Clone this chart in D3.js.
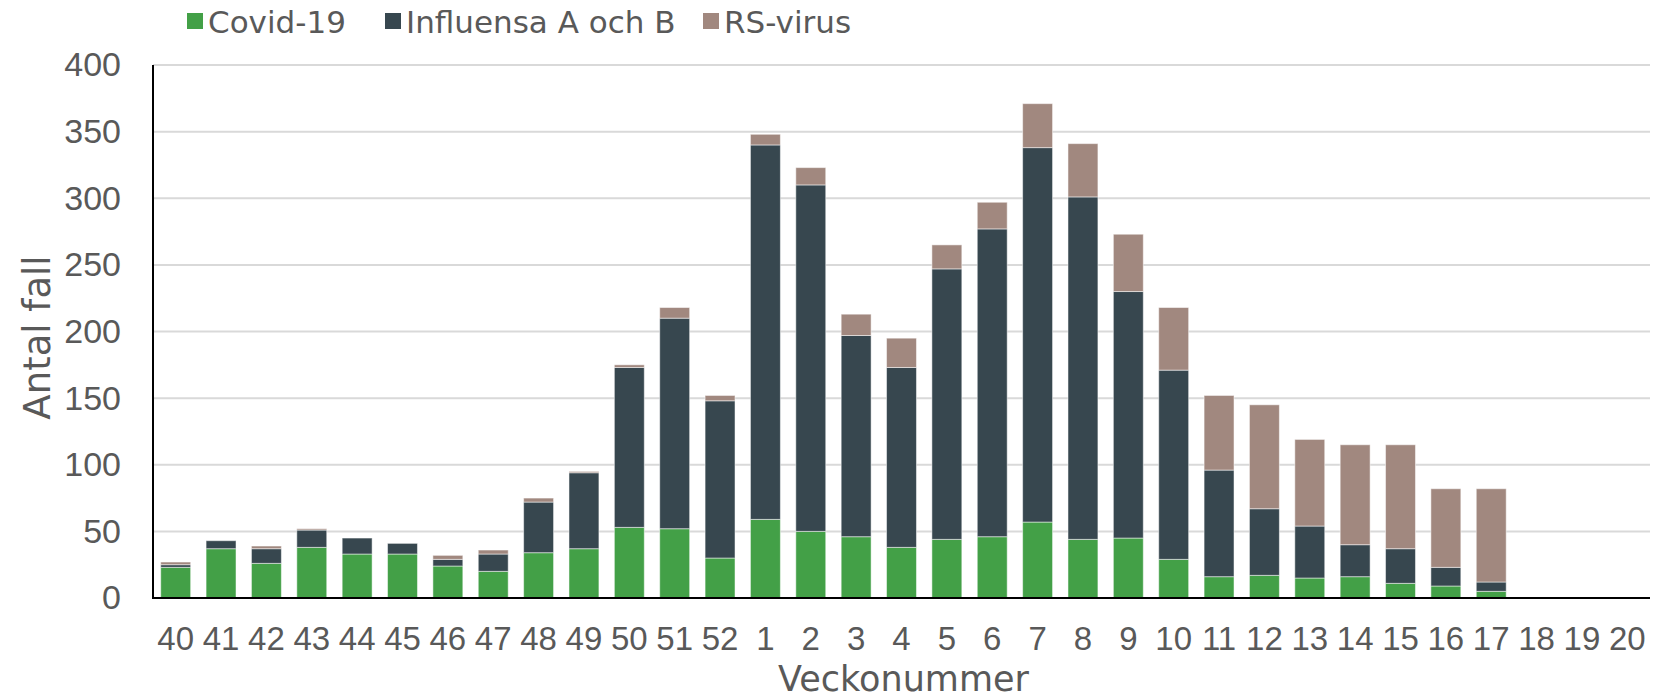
<!DOCTYPE html>
<html>
<head>
<meta charset="utf-8">
<script src="https://cdn.jsdelivr.net/npm/d3@7"></script>
<style>
  body { margin: 0; background: #fff; }
  svg { display: block; font-family: "DejaVu Sans", Verdana, sans-serif; }
</style>
</head>
<body>
<div id="chart"></div>
<script>
// week numbers on the x axis (season 40 -> 20)
const weeks = ["40", "41", "42", "43", "44", "45", "46", "47", "48", "49", "50", "51", "52",
  "1", "2", "3", "4", "5", "6", "7", "8", "9", "10", "11", "12", "13", "14", "15", "16", "17", "18", "19", "20"];

// counts per week
const covid = [23, 37, 26, 38, 33, 33, 24, 20, 34, 37, 53, 52, 30,
  59, 50, 46, 38, 44, 46, 57, 44, 45, 29, 16, 17, 15, 16, 11, 9, 5, 0, 0, 0];
const influensa = [2, 6, 11, 13, 12, 8, 5, 13, 38, 57, 120, 158, 118,
  281, 260, 151, 135, 203, 231, 281, 257, 185, 142, 80, 50, 39, 24, 26, 14, 7, 0, 0, 0];
const rsvirus = [2, 0, 2, 1, 0, 0, 3, 3, 3, 1, 2, 8, 4,
  8, 13, 16, 22, 18, 20, 33, 40, 43, 47, 56, 78, 65, 75, 78, 59, 70, 0, 0, 0];

const seriesNames = ["Covid-19", "Influensa A och B", "RS-virus"];
const seriesColors = ["#43a047", "#37474f", "#a1887f"];
const yTicks = [0, 50, 100, 150, 200, 250, 300, 350, 400];

const config = {
  width: 1654,
  height: 700,
  margin: { top: 65, right: 4, bottom: 102, left: 153 },
  textColor: "#595959",
  gridColor: "#d9d9d9",
};

const table = weeks.map((w, i) => ({
  week: w,
  "Covid-19": covid[i],
  "Influensa A och B": influensa[i],
  "RS-virus": rsvirus[i],
}));

const svg = d3.select("#chart")
  .append("svg")
  .attr("width", config.width)
  .attr("height", config.height);

const m = config.margin;
const x = d3.scaleBand()
  .domain(weeks)
  .range([m.left, config.width - m.right])
  .paddingInner(0.34)
  .paddingOuter(0.17);

const y = d3.scaleLinear()
  .domain([0, 400])
  .range([config.height - m.bottom, m.top]);

// gridlines
svg.append("g")
  .selectAll("line")
  .data(yTicks.filter((d) => d > 0))
  .enter()
  .append("line")
  .attr("x1", m.left)
  .attr("x2", config.width - m.right)
  .attr("y1", (d) => y(d))
  .attr("y2", (d) => y(d))
  .attr("stroke", config.gridColor)
  .attr("stroke-width", 2);

// stacked bars
const stacked = d3.stack().keys(seriesNames)(table);

svg.append("g")
  .selectAll("g")
  .data(stacked)
  .enter()
  .append("g")
  .attr("fill", (d, i) => seriesColors[i])
  .selectAll("rect")
  .data((d) => d.filter((s) => s[1] - s[0] > 0))
  .enter()
  .append("rect")
  .attr("x", (d) => x(d.data.week))
  .attr("y", (d) => y(d[1]))
  .attr("width", x.bandwidth())
  .attr("height", (d) => y(d[0]) - y(d[1]))
  .attr("stroke", "#ffffff")
  .attr("stroke-opacity", 0.5)
  .attr("stroke-width", 1);

// y axis
const yAxis = d3.axisLeft(y).tickValues(yTicks).tickSize(0).tickPadding(32);
const gy = svg.append("g")
  .attr("transform", `translate(${m.left},0)`)
  .call(yAxis);
gy.select(".domain").remove();
gy.selectAll("text")
  .attr("fill", config.textColor)
  .style("font-size", "34px");

svg.append("line")
  .attr("x1", m.left)
  .attr("x2", m.left)
  .attr("y1", y(400))
  .attr("y2", y(0))
  .attr("stroke", "#000")
  .attr("stroke-width", 2);

// x axis
const xAxis = d3.axisBottom(x).tickSize(0).tickPadding(29);
const gx = svg.append("g")
  .attr("transform", `translate(0,${y(0)})`)
  .call(xAxis);
gx.select(".domain").remove();
gx.selectAll("text")
  .attr("fill", config.textColor)
  .style("font-size", "33px");

svg.append("line")
  .attr("x1", m.left - 1)
  .attr("x2", config.width - m.right)
  .attr("y1", y(0))
  .attr("y2", y(0))
  .attr("stroke", "#000")
  .attr("stroke-width", 2);

// axis titles
svg.append("text")
  .attr("transform", `translate(50,${(y(0) + y(400)) / 2 + 6}) rotate(-90)`)
  .attr("text-anchor", "middle")
  .attr("fill", config.textColor)
  .style("font-size", "37px")
  .text("Antal fall");

svg.append("text")
  .attr("x", (m.left + config.width - m.right) / 2 + 2)
  .attr("y", 691)
  .attr("text-anchor", "middle")
  .attr("fill", config.textColor)
  .style("font-size", "35px")
  .text("Veckonummer");

// legend
const legendX = [187, 385, 703];
const legend = svg.append("g")
  .selectAll("g")
  .data(seriesNames)
  .enter()
  .append("g")
  .attr("transform", (d, i) => `translate(${legendX[i]},13)`);

legend.append("rect")
  .attr("width", 16)
  .attr("height", 16)
  .attr("fill", (d, i) => seriesColors[i]);

legend.append("text")
  .attr("x", 21)
  .attr("y", 20)
  .attr("fill", config.textColor)
  .style("font-size", "31px")
  .text((d) => d);
</script>
</body>
</html>
